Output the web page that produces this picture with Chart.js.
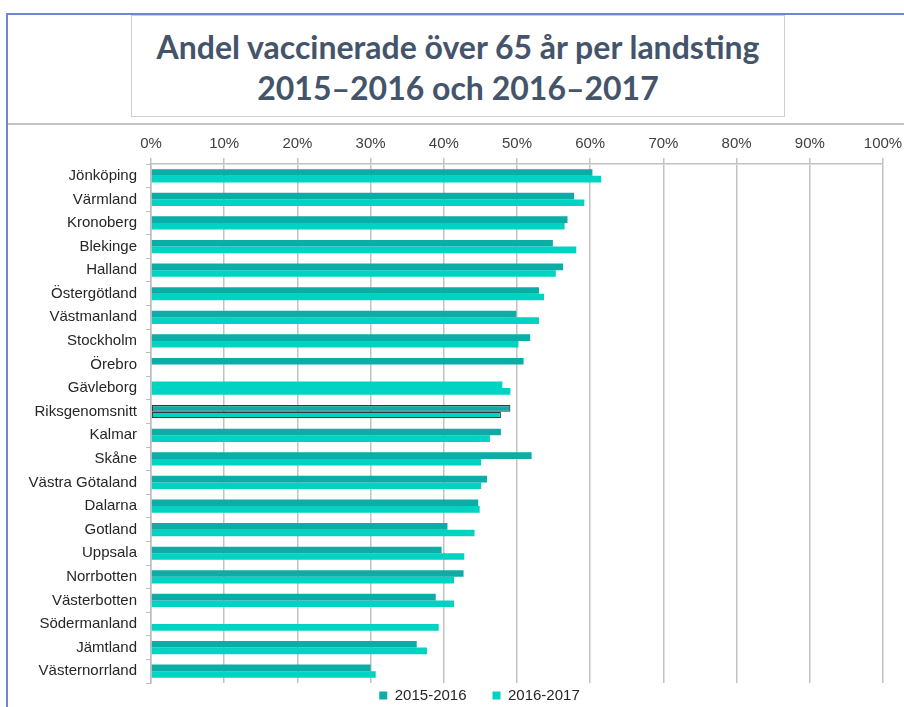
<!DOCTYPE html>
<html lang="sv">
<head>
<meta charset="utf-8">
<title>Andel vaccinerade över 65 år per landsting</title>
<script src="https://cdn.jsdelivr.net/npm/chart.js@4/dist/chart.umd.min.js"></script>
<style>
  html, body { margin: 0; padding: 0; background: #fff; }
  #page { position: relative; width: 904px; height: 707px; overflow: hidden; background: #fff; }
  #frameTop { position: absolute; left: 6px; top: 13px; width: 898px; height: 0; border-top: 2px solid #6F87CF; }
  #frameLeft { position: absolute; left: 6px; top: 13px; width: 0; height: 694px; border-left: 2px solid #6F87CF; }
  #rule { position: absolute; left: 8px; top: 123px; width: 896px; height: 0; border-top: 2px solid #C4C4C4; }
  #titleBox {
    position: absolute; left: 131px; top: 15px; width: 654px; height: 102px;
    border: 1px solid #CFCFCF; background: #fff;
    font-family: Lato, "Open Sans", sans-serif; font-weight: 700; font-size: 32px;
    line-height: 41px; color: #44546A; text-align: center;
    box-sizing: border-box; padding-top: 10px; white-space: nowrap;
  }
  #chartWrap { position: absolute; left: 0; top: 125px; width: 904px; height: 609px; }
</style>
</head>
<body>
<div id="page">
  <div id="frameTop"></div>
  <div id="frameLeft"></div>
  <div id="rule"></div>
  <div id="titleBox">Andel vaccinerade över 65 år per landsting<br>2015–2016 och 2016–2017</div>
  <div id="chartWrap"><canvas id="chart" width="904" height="609"></canvas></div>
</div>
<script>
// Landsting, sorted by 2016–2017 coverage
const categories = [
  "Jönköping", "Värmland", "Kronoberg", "Blekinge", "Halland", "Östergötland",
  "Västmanland", "Stockholm", "Örebro", "Gävleborg", "Riksgenomsnitt", "Kalmar",
  "Skåne", "Västra Götaland", "Dalarna", "Gotland", "Uppsala", "Norrbotten",
  "Västerbotten", "Södermanland", "Jämtland", "Västernorrland"
];

// Share vaccinated, percent
const season2015 = [60.3, 57.8, 56.9, 54.9, 56.3, 53.0, 49.9, 51.8, 50.9, 48.0, 49.1,
                    47.8, 52.0, 45.9, 44.7, 40.5, 39.7, 42.7, 38.9, null, 36.3, 30.0];
const season2016 = [61.5, 59.2, 56.5, 58.1, 55.3, 53.7, 53.0, 50.2, null, 49.1, 47.8,
                    46.3, 45.1, 45.1, 44.9, 44.2, 42.8, 41.4, 41.4, 39.3, 37.7, 30.7];

const seriesNames = ["2015-2016", "2016-2017"];
const percentTicks = [0, 10, 20, 30, 40, 50, 60, 70, 80, 90, 100];

const DARK = "#0BADA6";
const LIGHT = "#00D3C1";
const AVG = "Riksgenomsnitt";

const isAvg = categories.map(c => c === AVG);

// Gävleborg's earlier season is shown in the lighter tone
const colors2015 = categories.map(c => c === "Gävleborg" ? LIGHT : DARK);

// Nudge the legend: a little right of centre and up close under the plot
const legendShift = {
  id: "legendShift",
  afterLayout(chart) {
    const lg = chart.legend;
    if (!lg) return;
    const dx = 38, dy = -21;
    lg.left += dx; lg.right += dx;
    lg.top += dy; lg.bottom += dy;
  }
};

new Chart(document.getElementById("chart"), {
  type: "bar",
  data: {
    labels: categories,
    datasets: [
      {
        label: seriesNames[0],
        data: season2015,
        backgroundColor: colors2015,
        borderColor: isAvg.map(a => a ? "#2E3B3B" : "rgba(0,0,0,0)"),
        borderWidth: isAvg.map(a => a ? 1.2 : 0),
        borderSkipped: false,
        categoryPercentage: 0.56,
        barPercentage: 1.0
      },
      {
        label: seriesNames[1],
        data: season2016,
        backgroundColor: LIGHT,
        borderColor: isAvg.map(a => a ? "#2E3B3B" : "rgba(0,0,0,0)"),
        borderWidth: isAvg.map(a => a ? 1.2 : 0),
        borderSkipped: false,
        categoryPercentage: 0.56,
        barPercentage: 1.0
      }
    ]
  },
  plugins: [legendShift],
  options: {
    indexAxis: "y",
    responsive: false,
    animation: false,
    layout: { padding: { left: 0, right: 21, top: 0, bottom: 0 } },
    scales: {
      x: {
        position: "top",
        min: 0,
        max: 100,
        afterBuildTicks: s => { s.ticks = percentTicks.map(v => ({ value: v })); },
        afterFit: s => { s.height = 39; s.paddingLeft = 0; s.paddingRight = 0; },
        ticks: {
          callback: v => v + "%",
          font: { family: "'Liberation Sans', Arial, sans-serif", size: 15 },
          color: "#404040",
          padding: 5,
          maxRotation: 0
        },
        grid: { color: "#C2C2C2", lineWidth: 1.5, tickLength: 6 },
        border: { color: "#C2C2C2", width: 1.5 }
      },
      y: {
        offset: true,
        afterFit: s => { s.width = 151; },
        ticks: {
          font: { family: "'Liberation Sans', Arial, sans-serif", size: 15 },
          color: "#262626",
          padding: 9,
          autoSkip: false
        },
        grid: { drawOnChartArea: false, offset: true, color: "#BDBDBD", tickLength: 5 },
        border: { color: "#BDBDBD", width: 1.5 }
      }
    },
    plugins: {
      legend: {
        position: "bottom",
        labels: {
          generateLabels: chart => chart.data.datasets.map((d, i) => ({
            text: d.label,
            fillStyle: i === 0 ? DARK : LIGHT,
            strokeStyle: "rgba(0,0,0,0)",
            lineWidth: 0,
            datasetIndex: i,
            fontColor: "#262626"
          })),
          boxWidth: 8,
          boxHeight: 8,
          padding: 26,
          color: "#262626",
          font: { family: "'Liberation Sans', Arial, sans-serif", size: 15 }
        }
      },
      tooltip: { enabled: false }
    }
  }
});
</script>
</body>
</html>
